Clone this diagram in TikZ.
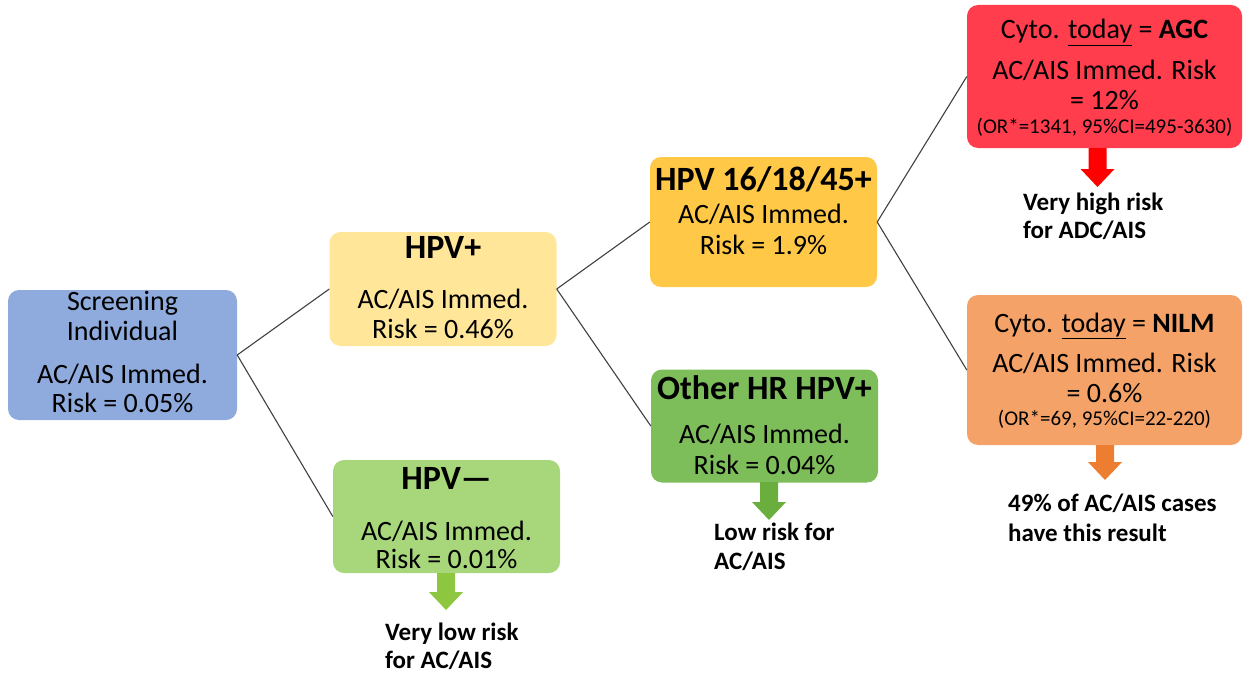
\documentclass[tikz,border=0pt]{standalone}
\usepackage{fontspec}
\setmainfont{Carlito}
\usetikzlibrary{calc}
\definecolor{cscr}{HTML}{8FAADC}
\definecolor{chpvp}{HTML}{FFE699}
\definecolor{chpvn}{HTML}{A7D77A}
\definecolor{chpvs}{HTML}{FFC846}
\definecolor{cother}{HTML}{7DBD5A}
\definecolor{cagc}{HTML}{FF3D4D}
\definecolor{cnilm}{HTML}{F4A267}
\definecolor{alow}{HTML}{8DC63F}
\definecolor{aoth}{HTML}{6AAE3E}
\definecolor{ared}{HTML}{FF0000}
\definecolor{aora}{HTML}{ED7D31}
\tikzset{
  box/.style={rounded corners=11pt, inner sep=0pt, draw=none},
  body/.style={inner sep=0pt, anchor=base, font=\fontsize{28}{30}\selectfont},
  ttl/.style={inner sep=0pt, anchor=base, font=\fontsize{34}{36}\selectfont\bfseries},
  small/.style={inner sep=0pt, anchor=base, font=\fontsize{21}{23}\selectfont},
  lab/.style={inner sep=0pt, anchor=base west, font=\fontsize{25}{27}\selectfont\bfseries},
  conn/.style={draw=black!75, line width=1.1pt},
}
\newcommand{\blockarrow}[4]{% center x, top y, tip y, color
  \fill[#4] (#1-9,#2) -- (#1+9,#2) -- (#1+9,#3-18) -- (#1+17,#3-18) -- (#1,#3) -- (#1-17,#3-18) -- (#1-9,#3-18) -- cycle;}
\begin{document}
\begin{tikzpicture}[x=1pt,y=-1pt]
\useasboundingbox (0,0) rectangle (1249,674);
% boxes
\node[box, fill=cscr, minimum width=229pt, minimum height=130pt] (scr) at (122.5,355) {};
\node[box, fill=chpvp, minimum width=227pt, minimum height=114pt] (hpvp) at (443,289) {};
\node[box, fill=chpvn, minimum width=227pt, minimum height=113pt] (hpvn) at (446.5,516.5) {};
\node[box, fill=chpvs, minimum width=227pt, minimum height=130pt] (hpvs) at (763.5,222) {};
\node[box, fill=cother, minimum width=227pt, minimum height=113pt] (oth) at (764.5,426) {};
\node[box, fill=cagc, minimum width=275pt, minimum height=143pt] (agc) at (1104.5,76.5) {};
\node[box, fill=cnilm, minimum width=275pt, minimum height=150pt] (nilm) at (1104.5,370) {};
% connectors
\draw[conn] (scr.east) -- (hpvp.west);
\draw[conn] (scr.east) -- (hpvn.west);
\draw[conn] (hpvp.east) -- (hpvs.west);
\draw[conn] (hpvp.east) -- (oth.west);
\draw[conn] (hpvs.east) -- (agc.west);
\draw[conn] (hpvs.east) -- (nilm.west);
% texts
\node[body] (scr1) at (122.5,310) {Screening};
\node[body] (scr2) at (122.5,340) {Individual};
\node[body] (scr3) at (122.5,383) {AC/AIS Immed.};
\node[body] (scr4) at (122.5,412) {Risk = 0.05\%};
\node[ttl] (hp1) at (443,258) {HPV+};
\node[body] (hp2) at (443,308) {AC/AIS Immed.};
\node[body] (hp3) at (443,338) {Risk = 0.46\%};
\node[ttl] (hn1) at (446.5,489) {HPV—};
\node[body] (hn2) at (446.5,540) {AC/AIS Immed.};
\node[body] (hn3) at (446.5,568) {Risk = 0.01\%};
\node[ttl] (hs1) at (763.5,190) {HPV 16/18/45+};
\node[body] (hs2) at (763.5,223) {AC/AIS Immed.};
\node[body] (hs3) at (763.5,254) {Risk = 1.9\%};
\node[ttl] (ot1) at (764.5,399) {Other HR HPV+};
\node[body] (ot2) at (764.5,443) {AC/AIS Immed.};
\node[body] (ot3) at (764.5,474) {Risk = 0.04\%};
\node[body] (ag1) at (1104.5,39) {Cyto. \underline{today} = \textbf{AGC}};
\node[body] (ag2) at (1104.5,80) {AC/AIS Immed. Risk};
\node[body] (ag3) at (1104.5,110) {= 12\%};
\node[small] (ag4) at (1104.5,133) {(OR*=1341, 95\%CI=495-3630)};
\node[body] (ni1) at (1104.5,332) {Cyto. \underline{today} = \textbf{NILM}};
\node[body] (ni2) at (1104.5,372) {AC/AIS Immed. Risk};
\node[body] (ni3) at (1104.5,402) {= 0.6\%};
\node[small] (ni4) at (1104.5,425) {(OR*=69, 95\%CI=22-220)};
% block arrows
\blockarrow{446}{573}{610}{alow}
\blockarrow{769}{482}{520}{aoth}
\blockarrow{1097.5}{148}{187}{ared}
\blockarrow{1105}{445}{480}{aora}
% labels
\node[lab] (l1a) at (385,640) {Very low risk};
\node[lab] (l1b) at (385,668) {for AC/AIS};
\node[lab] (l2a) at (714,540) {Low risk for};
\node[lab] (l2b) at (714,569) {AC/AIS};
\node[lab] (l3a) at (1023,210) {Very high risk};
\node[lab] (l3b) at (1023,238) {for ADC/AIS};
\node[lab] (l4a) at (1008,511) {49\% of AC/AIS cases};
\node[lab] (l4b) at (1008,541) {have this result};
\end{tikzpicture}
\end{document}
